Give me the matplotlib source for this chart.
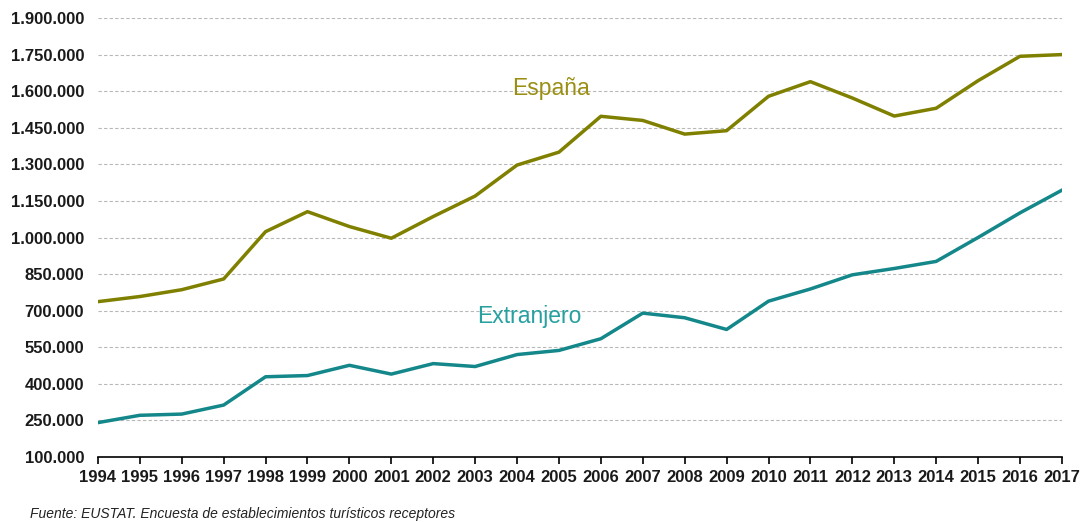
import matplotlib
matplotlib.use("Agg")
import matplotlib.pyplot as plt
from matplotlib.ticker import FuncFormatter

plt.rcParams['font.family'] = ['Liberation Sans', 'DejaVu Sans']

years = list(range(1994, 2018))

espana = [737000, 758000, 786000, 830000, 1024000, 1106000, 1045000, 997000,
          1086000, 1170000, 1297000, 1350000, 1497000, 1480000, 1424000, 1438000,
          1579000, 1639000, 1572000, 1498000, 1530000, 1643000, 1743000, 1750000]

extranjero = [241000, 271000, 276000, 313000, 429000, 434000, 476000, 440000,
              483000, 471000, 520000, 537000, 585000, 690000, 671000, 623000,
              739000, 789000, 847000, 873000, 902000, 1000000, 1101000, 1194000]

y_ticks = list(range(100000, 1900001, 150000))

ESPANA_COLOR = "#808000"
EXTRANJERO_COLOR = "#14878a"


def thousands(v, pos):
    return f"{int(v):,}".replace(",", ".")


fig = plt.figure(figsize=(10.88, 5.22), dpi=100)
ax = fig.add_axes([0.090, 0.1245, 0.886, 0.841])

ax.plot(years, espana, color=ESPANA_COLOR, linewidth=2.5, solid_joinstyle='round')
ax.plot(years, extranjero, color=EXTRANJERO_COLOR, linewidth=2.5, solid_joinstyle='round')

ax.text(2004.8, 1609000, "España", color="#9a8f12", fontsize=16.5, ha='center', va='center')
ax.text(2004.3, 675000, "Extranjero", color="#27a0a0", fontsize=16.5, ha='center', va='center')

ax.set_xlim(1994, 2017)
ax.set_ylim(100000, 1900000)
ax.set_yticks(y_ticks)
ax.yaxis.set_major_formatter(FuncFormatter(thousands))
ax.set_xticks(years)

ax.grid(axis='y', linestyle=(0, (3, 2)), color='#b8b8b8', linewidth=0.8)
ax.set_axisbelow(True)

for side in ['left', 'right', 'top']:
    ax.spines[side].set_visible(False)
ax.spines['bottom'].set_color('black')
ax.spines['bottom'].set_linewidth(1.2)

ax.tick_params(axis='y', length=0, pad=10, labelsize=12)
ax.tick_params(axis='x', direction='out', length=5, width=1.2, pad=4, labelsize=12)
for lab in ax.get_xticklabels() + ax.get_yticklabels():
    lab.set_fontweight('bold')
    lab.set_color('#1a1a1a')

fig.text(0.028, 0.008, "Fuente: EUSTAT. Encuesta de establecimientos turísticos receptores",
         fontsize=10, style='italic', color='#222222')

fig.savefig("out.png", dpi=100)
